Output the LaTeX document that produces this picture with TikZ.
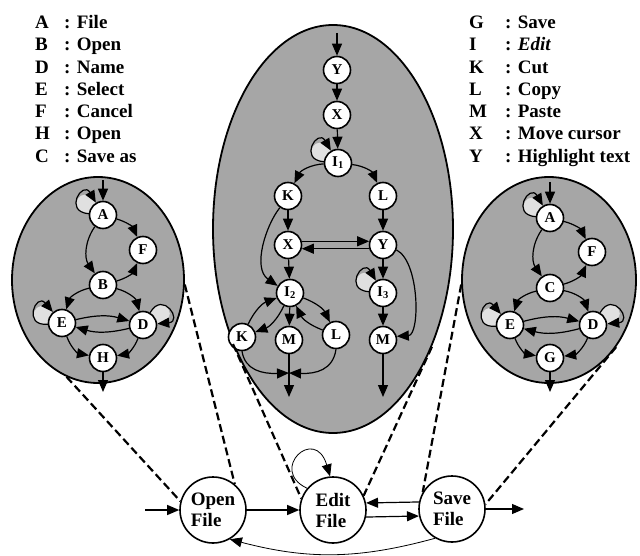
\documentclass[tikz,border=0pt]{standalone}
\usepackage{fontspec}
\setmainfont{Liberation Serif}
\usetikzlibrary{arrows.meta,shapes.geometric}
\newcommand\legfont{\fontsize{19}{21}\selectfont\bfseries}
\newcommand\statefont{\fontsize{15}{15}\selectfont\bfseries}
\pgfdeclarelayer{back}
\pgfsetlayers{back,main}
% self loop on a state: #1 node, #2 leaving angle, #3 entering angle
\newcommand\selfloop[3]{%
  \begin{pgfonlayer}{back}
    \fill[black!12] (#1.#2) .. controls +(#2:26pt) and +(#3:26pt) .. (#1.#3) -- (#1.center) -- cycle;
  \end{pgfonlayer}
  \draw[arr] (#1.#2) .. controls +(#2:26pt) and +(#3:26pt) .. (#1.#3);}

\begin{document}
\begin{tikzpicture}[x=1pt,y=-1pt,
  state/.style={circle,draw,line width=1.6pt,fill=white,minimum size=27pt,inner sep=0pt,font=\statefont},
  task/.style={circle,draw,line width=1.6pt,fill=white,minimum size=66pt,inner sep=0pt,font=\legfont,align=left},
  region/.style={ellipse,draw,line width=1.8pt,fill=black!35,inner sep=0pt},
  arr/.style={line width=1.2pt,-{Triangle[length=12pt,width=10pt]}},
  thinarr/.style={line width=0.8pt,-{Triangle[length=12pt,width=10pt]}},
  link/.style={line width=2.2pt,dash pattern=on 8pt off 4pt},
  leg/.style={font=\legfont,inner sep=0pt,anchor=base west},
]
\useasboundingbox (0,0) rectangle (640,556);

% ---------- legend ----------
\foreach \k/\t [count=\i from 0] in {A/File,B/Open,D/Name,E/Select,F/Cancel,H/Open,C/Save as}{
  \node[leg] (ll\i) at (35,28.5+22.3*\i) {\k};
  \node[leg] (lt\i) at (64,28.5+22.3*\i) {: \t};
}
\foreach \k/\t [count=\i from 0] in {G/Save,I/\textit{Edit},K/Cut,L/Copy,M/Paste,X/Move cursor,Y/Highlight text}{
  \node[leg] (rl\i) at (469,28.5+22.3*\i) {\k};
  \node[leg] (rt\i) at (505,28.5+22.3*\i) {: \t};
}

% ---------- regions ----------
\begin{pgfonlayer}{back}
\node[region,minimum width=172pt,minimum height=206pt] (lell) at (98,280) {};
\node[region,minimum width=240pt,minimum height=408pt] (mell) at (333,229) {};
\node[region,minimum width=174pt,minimum height=206pt] (rell) at (549,280) {};
\end{pgfonlayer}

% ---------- Open File sub-graph ----------
\node[state] (lA) at (103,215) {A};
\node[state] (lF) at (143,250) {F};
\node[state] (lB) at (103,285) {B};
\node[state] (lE) at (62,323) {E};
\node[state] (lD) at (143,325) {D};
\node[state] (lH) at (103,358) {H};
\coordinate (lin) at (103,180);
\coordinate (lout) at (103,392);

\draw[arr] (lin) -- (lA);
\selfloop{lA}{175}{120}
\draw[arr] (lA) to[bend left=25] (lF);
\draw[arr] (lA) to[bend right=35] (lB);
\draw[arr] (lB) to[bend right=25] (lF);
\draw[arr] (lB) to[bend right=30] (lE);
\draw[arr] (lB) to[bend left=30] (lD);
\draw[arr] (lE) to[bend left=15] (lD);
\draw[arr] (lD) to[bend left=15] (lE);
\draw[arr] (lE) to[bend right=30] (lH);
\draw[arr] (lD) to[bend left=30] (lH);
\selfloop{lE}{185}{130}
\selfloop{lD}{60}{5}
\draw[arr] (lH) -- (lout);

% ---------- Save File sub-graph ----------
\node[state] (rA) at (550,218) {A};
\node[state] (rF) at (592,252) {F};
\node[state] (rC) at (550,288) {C};
\node[state] (rE) at (510,325) {E};
\node[state] (rD) at (593,325) {D};
\node[state] (rG) at (550,358) {G};
\coordinate (rin) at (550,182);
\coordinate (rout) at (550,392);

\draw[arr] (rin) -- (rA);
\selfloop{rA}{175}{120}
\draw[arr] (rA) to[bend left=25] (rF);
\draw[arr] (rA) to[bend right=35] (rC);
\draw[arr] (rC) to[bend right=25] (rF);
\draw[arr] (rC) to[bend right=30] (rE);
\draw[arr] (rC) to[bend left=30] (rD);
\draw[arr] (rE) to[bend left=15] (rD);
\draw[arr] (rD) to[bend left=15] (rE);
\draw[arr] (rE) to[bend right=30] (rG);
\draw[arr] (rD) to[bend left=30] (rG);
\selfloop{rE}{185}{130}
\selfloop{rD}{60}{5}
\draw[arr] (rG) -- (rout);

% ---------- Edit File sub-graph ----------
\node[state] (mY)  at (337,70)  {Y};
\node[state] (mX)  at (337,115) {X};
\node[state] (mI1) at (338,163) {I\textsubscript{1}};
\node[state] (mK)  at (288,196) {K};
\node[state] (mL)  at (383,196) {L};
\node[state] (mX2) at (288,245) {X};
\node[state] (mY2) at (383,245) {Y};
\node[state] (mI2) at (290,293) {I\textsubscript{2}};
\node[state] (mI3) at (383,293) {I\textsubscript{3}};
\node[state] (mK2) at (242,337) {K};
\node[state] (mM)  at (289,340) {M};
\node[state] (mL2) at (336,335) {L};
\node[state] (mM2) at (383,340) {M};
\coordinate (min) at (337,33);
\coordinate (mjoin) at (289,373);
\coordinate (mout) at (289,397);
\coordinate (mout2) at (383,397);

\draw[arr] (min) -- (mY);
\draw[arr] (mY) -- (mX);
\draw[arr] (mX) -- (mI1);
\selfloop{mI1}{175}{120}
\draw[arr] (mI1) to[bend right=30] (mK);
\draw[arr] (mI1) to[bend left=30] (mL);
\draw[arr] (mK) -- (mX2);
\draw[arr] (mL) -- (mY2);
\draw[arr] (mX2.15) -- (mY2.165);
\draw[arr] (mY2.-165) -- (mX2.-15);
\draw[arr] (mK.235) .. controls (266,225) and (252,268) .. (mI2.150);
\draw[arr] (mX2) -- (mI2);
\draw[arr] (mY2) -- (mI3);
\selfloop{mI3}{175}{120}
\draw[arr] (mY2.-20) .. controls (420,262) and (420,335) .. (mM2.15);
\draw[arr] (mI3) -- (mM2);
\draw[arr] (mI2) to[bend left=22] (mK2);
\draw[arr] (mK2) to[bend left=22] (mI2);
\draw[arr] (mI2) to[bend left=22] (mL2);
\draw[arr] (mL2) to[bend left=22] (mI2);
\draw[arr] (mI2) -- (mM);
\draw[arr] (mK2.south) .. controls (245,370) and (262,374) .. (mjoin);
\draw[arr] (mL2.south) .. controls (333,370) and (316,374) .. (mjoin);
\draw[arr] (mM) -- (mout);
\draw[arr] (mM2) -- (mout2);

% ---------- top level ----------
\node[task] (open) at (213,510) {Open\\File};
\node[task] (edit) at (333,510) {Edit\\File};
\node[task] (save) at (452,509) {Save\\File};
\coordinate (bin) at (145,510);
\coordinate (bout) at (524,509);

\draw[arr] (bin) -- (open);
\draw[arr] (open) -- (edit);
\draw[arr] (save.168) -- (edit.12);
\draw[arr] (edit.-12) -- (save.-168);
\draw[arr] (save) -- (bout);
\draw[thinarr] (edit.140) .. controls (268,470) and (315,425) .. (edit.95);
\draw[thinarr] (save.240) to[bend left=15] (open.-60);

% refinement links
\draw[link] (lell.-108) -- (open.165);
\draw[link] (lell.-3) -- (open.50);
\draw[link] (mell.-131) -- (edit.160);
\draw[link] (mell.-50) -- (edit.25);
\draw[link] (rell.183) -- (save.150);
\draw[link] (rell.-45) -- (save.8);
\end{tikzpicture}
\end{document}
